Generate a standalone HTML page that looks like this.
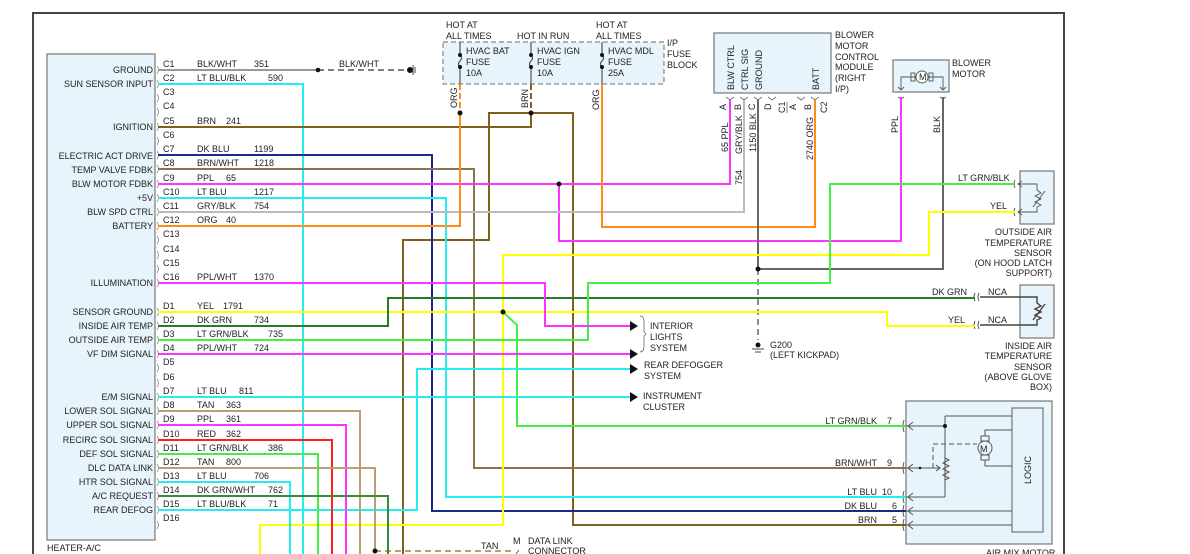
<!DOCTYPE html>
<html><head><meta charset="utf-8"><style>
html,body{margin:0;padding:0;background:#fff;}
svg{display:block;}
text{font-family:"Liberation Sans",sans-serif;font-size:9px;fill:#222;}
.r{text-anchor:end;}
.w{fill:none;stroke-width:2;}
</style></head><body>
<svg width="1190" height="554" viewBox="0 0 1190 554" xmlns="http://www.w3.org/2000/svg">
<polyline points="33,554 33,13 1064,13 1064,554" fill="none" stroke="#444" stroke-width="2"/>
<rect x="47" y="54" width="108" height="486" fill="#e8f4fb" stroke="#777" stroke-width="1.2"/>
<text x="47" y="551">HEATER-A/C</text>
<g class="r">
<text x="153" y="73">GROUND</text><text x="153" y="87">SUN SENSOR INPUT</text>
<text x="153" y="130">IGNITION</text><text x="153" y="159">ELECTRIC ACT DRIVE</text>
<text x="153" y="173">TEMP VALVE FDBK</text><text x="153" y="187">BLW MOTOR FDBK</text>
<text x="153" y="201">+5V</text><text x="153" y="215">BLW SPD CTRL</text>
<text x="153" y="229">BATTERY</text><text x="153" y="286">ILLUMINATION</text>
<text x="153" y="315">SENSOR GROUND</text><text x="153" y="329">INSIDE AIR TEMP</text>
<text x="153" y="343">OUTSIDE AIR TEMP</text><text x="153" y="357">VF DIM SIGNAL</text>
<text x="153" y="400">E/M SIGNAL</text><text x="153" y="414">LOWER SOL SIGNAL</text>
<text x="153" y="428">UPPER SOL SIGNAL</text><text x="153" y="443">RECIRC SOL SIGNAL</text>
<text x="153" y="457">DEF SOL SIGNAL</text><text x="153" y="471">DLC DATA LINK</text>
<text x="153" y="485">HTR SOL SIGNAL</text><text x="153" y="499">A/C REQUEST</text>
<text x="153" y="513">REAR DEFOG</text>
</g>
<g>
<text x="163" y="67">C1</text><text x="163" y="81">C2</text><text x="163" y="95">C3</text><text x="163" y="109">C4</text>
<text x="163" y="124">C5</text><text x="163" y="138">C6</text><text x="163" y="152">C7</text><text x="163" y="166">C8</text>
<text x="163" y="181">C9</text><text x="163" y="195">C10</text><text x="163" y="209">C11</text><text x="163" y="223">C12</text>
<text x="163" y="237">C13</text><text x="163" y="252">C14</text><text x="163" y="266">C15</text><text x="163" y="280">C16</text>
<text x="163" y="309">D1</text><text x="163" y="323">D2</text><text x="163" y="337">D3</text><text x="163" y="351">D4</text>
<text x="163" y="365">D5</text><text x="163" y="380">D6</text><text x="163" y="394">D7</text><text x="163" y="408">D8</text>
<text x="163" y="422">D9</text><text x="163" y="437">D10</text><text x="163" y="451">D11</text><text x="163" y="465">D12</text>
<text x="163" y="479">D13</text><text x="163" y="493">D14</text><text x="163" y="507">D15</text><text x="163" y="521">D16</text>
</g>
<g fill="none" stroke="#888" stroke-width="0.8">
<path d="M157,66 q3,4 0,8 M157,80 q3,4 0,8 M157,94 q3,4 0,8 M157,108 q3,4 0,8 M157,123 q3,4 0,8 M157,137 q3,4 0,8 M157,151 q3,4 0,8 M157,165 q3,4 0,8 M157,180 q3,4 0,8 M157,194 q3,4 0,8 M157,208 q3,4 0,8 M157,222 q3,4 0,8 M157,236 q3,4 0,8 M157,251 q3,4 0,8 M157,265 q3,4 0,8 M157,279 q3,4 0,8"/>
<path d="M157,308 q3,4 0,8 M157,322 q3,4 0,8 M157,336 q3,4 0,8 M157,350 q3,4 0,8 M157,364 q3,4 0,8 M157,379 q3,4 0,8 M157,393 q3,4 0,8 M157,407 q3,4 0,8 M157,421 q3,4 0,8 M157,436 q3,4 0,8 M157,450 q3,4 0,8 M157,464 q3,4 0,8 M157,478 q3,4 0,8 M157,492 q3,4 0,8 M157,506 q3,4 0,8 M157,521 q3,4 0,8"/>
</g>
<g>
<text x="197" y="67">BLK/WHT</text><text x="254" y="67">351</text>
<text x="197" y="81">LT BLU/BLK</text><text x="268" y="81">590</text>
<text x="197" y="124">BRN</text><text x="226" y="124">241</text>
<text x="197" y="152">DK BLU</text><text x="254" y="152">1199</text>
<text x="197" y="166">BRN/WHT</text><text x="254" y="166">1218</text>
<text x="197" y="181">PPL</text><text x="226" y="181">65</text>
<text x="197" y="195">LT BLU</text><text x="254" y="195">1217</text>
<text x="197" y="209">GRY/BLK</text><text x="254" y="209">754</text>
<text x="197" y="223">ORG</text><text x="226" y="223">40</text>
<text x="197" y="280">PPL/WHT</text><text x="254" y="280">1370</text>
<text x="197" y="309">YEL</text><text x="223" y="309">1791</text>
<text x="197" y="323">DK GRN</text><text x="254" y="323">734</text>
<text x="197" y="337">LT GRN/BLK</text><text x="268" y="337">735</text>
<text x="197" y="351">PPL/WHT</text><text x="254" y="351">724</text>
<text x="197" y="394">LT BLU</text><text x="239" y="394">811</text>
<text x="197" y="408">TAN</text><text x="226" y="408">363</text>
<text x="197" y="422">PPL</text><text x="226" y="422">361</text>
<text x="197" y="437">RED</text><text x="226" y="437">362</text>
<text x="197" y="451">LT GRN/BLK</text><text x="268" y="451">386</text>
<text x="197" y="465">TAN</text><text x="226" y="465">800</text>
<text x="197" y="479">LT BLU</text><text x="254" y="479">706</text>
<text x="197" y="493">DK GRN/WHT</text><text x="268" y="493">762</text>
<text x="197" y="507">LT BLU/BLK</text><text x="268" y="507">71</text>
</g>

<rect x="443" y="42" width="221" height="42" fill="#e8f4fb" stroke="#888" stroke-width="1.2" stroke-dasharray="5,3"/>
<text x="446" y="28">HOT AT</text><text x="446" y="39">ALL TIMES</text>
<text x="517" y="39">HOT IN RUN</text>
<text x="596" y="28">HOT AT</text><text x="596" y="39">ALL TIMES</text>
<text x="667" y="46">I/P</text><text x="667" y="57">FUSE</text><text x="667" y="68">BLOCK</text>
<text x="466" y="54">HVAC BAT</text><text x="466" y="65">FUSE</text><text x="466" y="76">10A</text>
<text x="537" y="54">HVAC IGN</text><text x="537" y="65">FUSE</text><text x="537" y="76">10A</text>
<text x="608" y="54">HVAC MDL</text><text x="608" y="65">FUSE</text><text x="608" y="76">25A</text>
<g fill="none" stroke="#555" stroke-width="1.2">
<path d="M460,42 V55 q3,3 0,6 q-3,3 0,6 V84"/>
<path d="M531,42 V55 q3,3 0,6 q-3,3 0,6 V84"/>
<path d="M602,42 V55 q3,3 0,6 q-3,3 0,6 V84"/>
</g>
<g fill="#111"><circle cx="460" cy="55" r="2"/><circle cx="460" cy="67" r="2"/><circle cx="531" cy="55" r="2"/><circle cx="531" cy="67" r="2"/><circle cx="602" cy="55" r="2"/><circle cx="602" cy="67" r="2"/></g>
<text transform="translate(457,108) rotate(-90)">ORG</text>
<text transform="translate(528,108) rotate(-90)">BRN</text>
<text transform="translate(599,110) rotate(-90)">ORG</text>

<rect x="714" y="33" width="117" height="60" fill="#e8f4fb" stroke="#777" stroke-width="1.2"/>
<text transform="translate(734,90) rotate(-90)">BLW CTRL</text>
<text transform="translate(748,90) rotate(-90)">CTRL SIG</text>
<text transform="translate(762,90) rotate(-90)">GROUND</text>
<text transform="translate(819,90) rotate(-90)">BATT</text>
<text x="835" y="38">BLOWER</text><text x="835" y="49">MOTOR</text><text x="835" y="60">CONTROL</text><text x="835" y="70">MODULE</text><text x="835" y="81">(RIGHT</text><text x="835" y="92">I/P)</text>
<g fill="none" stroke="#666" stroke-width="0.8">
<path d="M726,97 l4,3 l4,-3 M740,97 l4,3 l4,-3 M754,97 l4,3 l4,-3 M768,97 l4,3 l4,-3 M797,97 l4,3 l4,-3 M811,97 l4,3 l4,-3"/>
</g>
<text transform="translate(726,110) rotate(-90)">A</text>
<text transform="translate(741,110) rotate(-90)">B</text>
<text transform="translate(755,110) rotate(-90)">C</text>
<text transform="translate(771,110) rotate(-90)">D</text>
<text transform="translate(785,113) rotate(-90)">C1</text>
<line x1="787" y1="102" x2="787" y2="113" stroke="#444" stroke-width="0.7"/>
<text transform="translate(796,110) rotate(-90)">A</text>
<text transform="translate(811,110) rotate(-90)">B</text>
<text transform="translate(827,113) rotate(-90)">C2</text>
<text transform="translate(728,152) rotate(-90)">65  PPL</text>
<text transform="translate(742,154) rotate(-90)">GRY/BLK</text>
<text transform="translate(742,185) rotate(-90)">754</text>
<text transform="translate(756,152) rotate(-90)">1150  BLK</text>
<text transform="translate(813,160) rotate(-90)">2740  ORG</text>

<rect x="893" y="60" width="56" height="32" fill="#e8f4fb" stroke="#777" stroke-width="1.2"/>
<g fill="none" stroke="#555" stroke-width="0.9">
<path d="M916,77 H901 V90 M928,77 H943 V90 M898,87 l3,3 l3,-3 M940,87 l3,3 l3,-3"/>
<rect x="911" y="73" width="4" height="8"/><rect x="929" y="73" width="4" height="8"/>
<circle cx="922" cy="77" r="6" fill="#fff"/>
<path d="M898,97 l3,2 l3,-2 M940,97 l3,2 l3,-2"/>
</g>
<text x="919" y="80" font-size="8">M</text>
<text x="952" y="66">BLOWER</text><text x="952" y="77">MOTOR</text>
<text transform="translate(898,133) rotate(-90)">PPL</text>
<text transform="translate(940,133) rotate(-90)">BLK</text>

<rect x="1020" y="171" width="34" height="53" fill="#e8f4fb" stroke="#777" stroke-width="1.2"/>
<g fill="none" stroke="#555" stroke-width="0.9">
<path d="M1015,180 q-2,4 0,8 M1015,208 q-2,4 0,8 M1018,184 H1037 V190 l4,3 l-6,3 l6,3 l-6,3 l6,3 l-4,2 V212 H1018 M1022,181 l-4,3 l4,3 M1022,209 l-4,3 l4,3 M1033,207 l12,-16"/>
</g>
<text x="958" y="181">LT GRN/BLK</text><text x="990" y="209">YEL</text>
<g class="r"><text x="1052" y="235">OUTSIDE AIR</text><text x="1052" y="246">TEMPERATURE</text><text x="1052" y="256">SENSOR</text><text x="1052" y="266">(ON HOOD LATCH</text><text x="1052" y="276">SUPPORT)</text></g>

<rect x="1020" y="285" width="34" height="53" fill="#e8f4fb" stroke="#777" stroke-width="1.2"/>
<g fill="none" stroke="#444" stroke-width="0.9">
<path d="M975,293 q-2,4 0,8 M979,293 q-2,4 0,8 M975,321 q-2,4 0,8 M979,321 q-2,4 0,8"/>
<path d="M980,297 H1037 V303 l4,3 l-6,3 l6,3 l-6,3 l6,3 l-4,2 V325 H980 M1033,320 l12,-16" stroke-width="1.4"/>
</g>
<text x="932" y="295">DK GRN</text><text x="988" y="295">NCA</text>
<text x="948" y="323">YEL</text><text x="988" y="323">NCA</text>
<g class="r"><text x="1052" y="349">INSIDE AIR</text><text x="1052" y="359">TEMPERATURE</text><text x="1052" y="370">SENSOR</text><text x="1052" y="380">(ABOVE GLOVE</text><text x="1052" y="390">BOX)</text></g>

<rect x="906" y="401" width="146" height="143" fill="#e8f4fb" stroke="#777" stroke-width="1.2"/>
<rect x="1012" y="408" width="31" height="124" fill="#e8f4fb" stroke="#777" stroke-width="1.2"/>
<text transform="translate(1031,484) rotate(-90)">LOGIC</text>
<g fill="none" stroke="#555" stroke-width="1">
<path d="M906,426 H945 M945,416 H1012 M945,416 V497 M906,497 H945 M906,511 H1012 M906,525 H1012"/>
<path d="M945,458 l4,2 l-6,3 l6,3 l-6,3 l6,3 l-6,3 l6,3 l-4,2"/>
<path d="M906,468 H940 M936,465 l4,3 l-4,3"/>
<path d="M933,468 V444 H977" stroke-dasharray="5,3"/>
<rect x="981" y="436" width="8" height="5"/><rect x="981" y="455" width="8" height="5"/>
<circle cx="985" cy="448" r="7" fill="#e8f4fb"/>
<path d="M985,436 V430 H1012 M985,460 V466 H1012"/>
<path d="M913,422 l-5,4 l5,4 M913,464 l-5,4 l5,4 M913,493 l-5,4 l5,4 M913,507 l-5,4 l5,4 M913,521 l-5,4 l5,4"/>
<path d="M904,420 q-2,6 0,12 M904,462 q-2,6 0,12 M904,491 q-2,6 0,12 M904,505 q-2,6 0,12 M904,519 q-2,6 0,12"/>
</g>
<circle cx="945" cy="426" r="2" fill="#111"/><circle cx="920" cy="468" r="1.3" fill="#111"/>
<text x="980" y="452">M</text>
<g class="r"><text x="877" y="424">LT GRN/BLK</text><text x="877" y="466">BRN/WHT</text><text x="877" y="495">LT BLU</text><text x="877" y="509">DK BLU</text><text x="877" y="523">BRN</text></g>
<text x="887" y="424">7</text><text x="887" y="466">9</text><text x="882" y="495">10</text><text x="892" y="509">6</text><text x="892" y="523">5</text>
<text x="986" y="556">AIR MIX MOTOR</text>

<polyline class="w" stroke="#999" points="158,70 318,70"/>
<line x1="318" y1="70" x2="405" y2="70" stroke="#555" stroke-width="1.5" stroke-dasharray="6,4"/>
<text x="339" y="67">BLK/WHT</text>
<circle cx="318" cy="70" r="2.3" fill="#111"/>
<circle cx="410" cy="70" r="3" fill="#111"/><path d="M413,65 V75 M415,67 V73" stroke="#444" stroke-width="1"/>
<polyline class="w" stroke="#22eeee" points="158,84 303,84 303,554"/>
<polyline class="w" stroke="#80601a" points="158,127 531,127 531,113"/>
<line x1="531" y1="84" x2="531" y2="113" stroke="#80601a" stroke-width="2" stroke-dasharray="6,3"/>
<polyline class="w" stroke="#80601a" points="531,113 489,113 489,240 403,240 403,554"/>
<polyline class="w" stroke="#80601a" points="531,113 573,113 573,525 906,525"/>
<polyline class="w" stroke="#1a2a8a" points="158,155 432,155 432,511 906,511"/>
<polyline class="w" stroke="#8c7448" points="158,169 474,169 474,468 906,468"/>
<polyline class="w" stroke="#ff33ff" points="158,184 730,184 730,100"/>
<polyline class="w" stroke="#ff33ff" points="559,184 559,241 901,241 901,97"/>
<polyline class="w" stroke="#22eeee" points="158,198 446,198 446,497 906,497"/>
<polyline class="w" stroke="#bbb" points="158,212 744,212 744,100"/>
<polyline class="w" stroke="#ff8c1a" points="158,226 460,226 460,113"/>
<line x1="460" y1="84" x2="460" y2="113" stroke="#ff8c1a" stroke-width="2" stroke-dasharray="6,3"/>
<polyline class="w" stroke="#ff8c1a" points="602,84 602,227 815,227 815,100"/>
<polyline class="w" stroke="#666" points="758,100 758,269"/>
<polyline class="w" stroke="#666" points="758,269 943,269 943,97"/>
<line x1="758" y1="269" x2="758" y2="340" stroke="#666" stroke-width="1.5" stroke-dasharray="6,4"/>
<circle cx="758" cy="345" r="2.5" fill="#111"/><path d="M752,349 H764 M755,352 H761" stroke="#444" stroke-width="1"/>
<text x="770" y="348">G200</text><text x="770" y="358">(LEFT KICKPAD)</text>
<polyline class="w" stroke="#ffff00" points="260,554 260,525 503,525 503,255 929,255 929,212 1015,212"/>
<polyline class="w" stroke="#ffff00" points="158,312 887,312 887,326 975,326"/>
<polyline class="w" stroke="#44ee44" points="503,312 517,325 517,426 906,426"/>
<polyline class="w" stroke="#2a7a2a" points="158,326 388,326 388,298 975,298"/>
<polyline class="w" stroke="#44ee44" points="158,340 588,340 588,283 830,283 830,184 1015,184"/>
<polyline class="w" stroke="#ff33ff" points="158,283 545,283 545,326 630,326"/>
<polyline class="w" stroke="#ff33ff" points="158,354 630,354"/>
<polyline class="w" stroke="#22eeee" points="158,510 417,510 417,369 630,369"/>
<polyline class="w" stroke="#22eeee" points="158,397 630,397"/>
<polyline class="w" stroke="#b8a070" points="158,411 360,411 360,554"/>
<polyline class="w" stroke="#ff33ff" points="158,425 346,425 346,554"/>
<polyline class="w" stroke="#ff2020" points="158,440 332,440 332,554"/>
<polyline class="w" stroke="#44ee44" points="158,454 318,454 318,554"/>
<polyline class="w" stroke="#b8a070" points="158,468 375,468 375,551"/>
<line x1="375" y1="551" x2="512" y2="551" stroke="#b8a070" stroke-width="2" stroke-dasharray="6,4"/>
<polyline class="w" stroke="#22eeee" points="158,482 290,482 290,554"/>
<polyline class="w" stroke="#3a8a3a" points="158,496 388,496 388,554"/>
<g fill="#111"><circle cx="460" cy="113" r="2.5"/><circle cx="531" cy="113" r="2.5"/><circle cx="559" cy="184" r="2.5"/><circle cx="758" cy="269" r="2.5"/><circle cx="503" cy="312" r="2.5"/><circle cx="375" cy="551" r="2.5"/></g>
<g fill="#111"><path d="M630,321 l8,5 l-8,5z M630,349 l8,5 l-8,5z M630,364 l8,5 l-8,5z M630,392 l8,5 l-8,5z"/></g>
<path d="M640,316 q4,0 4,6 v10 l2,2 l-2,2 v10 q0,6 -4,6" fill="none" stroke="#666" stroke-width="0.8"/>
<text x="650" y="329">INTERIOR</text><text x="650" y="340">LIGHTS</text><text x="650" y="351">SYSTEM</text>
<text x="644" y="368">REAR DEFOGGER</text><text x="644" y="379">SYSTEM</text>
<text x="643" y="399">INSTRUMENT</text><text x="643" y="410">CLUSTER</text>
<text x="481" y="549">TAN</text><text x="513" y="544">M</text><text x="528" y="544">DATA LINK</text><text x="528" y="554">CONNECTOR</text>
<path d="M516,554 l3,-4" stroke="#444" stroke-width="0.8"/>
</svg>
</body></html>
